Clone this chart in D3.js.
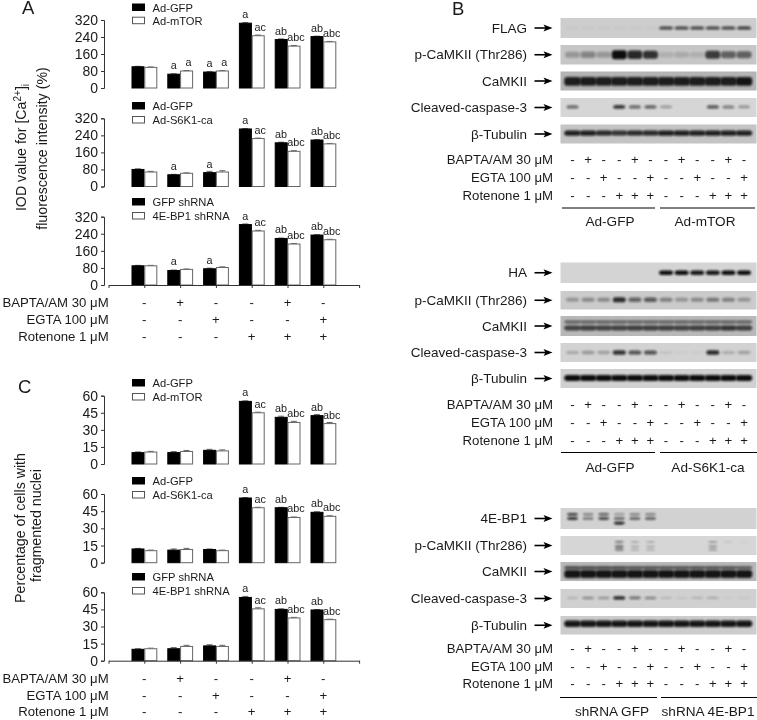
<!DOCTYPE html>
<html><head><meta charset="utf-8">
<script src="https://cdn.jsdelivr.net/npm/d3@7"></script>
<style>html,body{margin:0;padding:0;background:#fff}svg{display:block;filter:blur(0.3px)}text{font-family:"Liberation Sans",Arial,sans-serif;fill:#1a1a1a}</style>
</head><body><svg id="c" width="757" height="720"></svg>
<script>
// ---------- bar data ----------
const a1Black=[100,65,75,305,228,242], a1White=[97,80,80,246,197,217];
const a2Black=[80,55,65,270,205,218],  a2White=[68,62,68,225,165,200];
const a3Black=[90,68,76,283,218,234],  a3White=[90,73,82,253,192,212];
const c1Black=[10,10,12,55,41,42.5],   c1White=[10.5,11,11.5,45,36.5,35.5];
const c2Black=[12,11,11.5,56.5,48,44], c2White=[10.5,11.5,10.5,48,39.5,40.5];
const c3Black=[10,10.5,13,55.5,45,44.5], c3White=[10.5,12.5,12.5,45.5,37.5,36];
const a1Err=[2,2,2,3,3,2], a2Err=[3,2,6,2,3,2], a3Err=[2,2,3,3,2,2];
const c1Err=[.6,.9,.9,.5,1,1], c2Err=[.5,1,.5,.4,.4,.5], c3Err=[.5,1,1,.9,.5,.4];
const a1BlackLbl=["","a","a","a","ab","ab"], a1WhiteLbl=["","a","a","ac","abc","abc"];
const a2BlackLbl=["","a","a","a","ab","ab"], a2WhiteLbl=["","","","ac","abc","abc"];
const cBlackLbl=["","","","a","ab","ab"], cWhiteLbl=["","","","ac","abc","abc"];
const legendA1=["Ad-GFP","Ad-mTOR"], legendA2=["Ad-GFP","Ad-S6K1-ca"], legendA3=["GFP shRNA","4E-BP1 shRNA"];
const ticksA=[0,80,160,240,320], ticksC=[0,15,30,45,60];
const rowLabels=["BAPTA/AM 30 ","EGTA 100 ","Rotenone 1 "];
const signsBapta=["-","+","-","-","+","-"], signsEgta=["-","-","+","-","-","+"], signsRot=["-","-","-","+","+","+"];

// ---------- blot band intensities (0-1), one per lane ----------
const flag=[.04,.04,.04,.04,.03,.03,.72,.72,.72,.72,.72,.78];
const pCam1=[.25,.35,.25,1,.85,.8,.12,.15,.12,.75,.55,.55];
const cam1=[.9,.9,.9,.9,.9,.9,.9,.9,.9,.9,.9,.95];
const cleaved1=[.55,0,0,.8,.55,.6,.3,0,0,.65,.45,.35];
const tub1=[.9,.9,.85,.8,.85,.85,.9,.9,.9,.9,.9,.9];
const ha=[0,0,0,0,0,0,1,1,.95,.95,1,1];
const pCam2=[.3,.35,.35,.85,.55,.6,.4,.3,.35,.45,.4,.3];
const cam2a=[.55,.55,.55,.55,.55,.55,.55,.55,.55,.55,.55,.55];
const cam2b=[.7,.72,.7,.7,.72,.72,.72,.7,.72,.72,.78,.72];
const cleaved2=[.22,.3,.25,.82,.65,.65,.08,.03,.03,.85,.2,.25];
const tub2=[1,1,1,1,1,1,1,1,1,1,1,1];
const bp1a=[.75,.45,.6,.35,.45,.45,0,0,0,0,0,0];
const bp1b=[.8,.5,.7,.6,.65,.65,0,0,0,0,0,0];
const bp1c=[0,0,0,.95,0,0,0,0,0,0,0,0];
const pCam3a=[0,0,0,.5,.25,.25,0,0,0,.35,.1,.05];
const pCam3b=[0,0,0,.55,.22,.22,0,0,0,.35,0,0];
const pCam3c=[0,0,0,.5,.2,.2,0,0,0,.3,0,0];
const cam3a=[.7,.7,.7,.7,.65,.65,.65,.65,.65,.65,.65,.6];
const cam3b=[.95,.95,.95,.95,.95,.95,.95,.95,.95,.95,.95,.95];
const cleaved3=[.15,.35,.3,.9,.5,.4,.12,.08,.15,.2,.03,.05];
const tub3=[.95,.95,.95,.95,.95,.95,.95,.95,.95,.95,.95,.95];
const groupsB1=["Ad-GFP","Ad-mTOR"], groupsB2=["Ad-GFP","Ad-S6K1-ca"], groupsB3=["shRNA GFP","shRNA 4E-BP1"];
const signs12=[...signsBapta,...signsBapta], egta12=[...signsEgta,...signsEgta], rot12=[...signsRot,...signsRot];

const svg=d3.select("#c");
const defs=svg.append("defs");
defs.append("filter").attr("id","blur").attr("x","-30%").attr("y","-60%").attr("width","160%").attr("height","220%")
  .append("feGaussianBlur").attr("stdDeviation","1.1 0.8");
defs.append("filter").attr("id","soft").append("feGaussianBlur").attr("stdDeviation","0.35");
const x=d3.scaleLinear().domain([-1,6]).range([108.5,359.1]);
const barW=12.8;
const ink="#1a1a1a";

function barPanel(cfg){
  const y=d3.scaleLinear().domain(cfg.domain).range([cfg.y0,cfg.yTop]);
  const g=svg.append("g");
  const ax=g.append("g").attr("transform","translate(104,0)")
    .call(d3.axisLeft(y).tickValues(cfg.ticks).tickSize(3).tickPadding(3));
  ax.selectAll("path,line").attr("stroke","#333").attr("stroke-width",1);
  ax.selectAll("text").attr("font-size",14).attr("font-family","Liberation Sans").attr("fill",ink);
  const series=[[cfg.black,"#000","#000",-barW,cfg.blackLbl],[cfg.white,"#fff","#666",0,cfg.whiteLbl]];
  series.forEach(([vals,fill,stroke,dx,lbl])=>{
    g.selectAll(null).data(vals).join("line")
      .attr("x1",(d,i)=>x(i)+dx+barW/2).attr("x2",(d,i)=>x(i)+dx+barW/2)
      .attr("y1",d=>y(d)).attr("y2",(d,i)=>y(d+cfg.err[i])).attr("stroke","#666");
    g.selectAll(null).data(vals).join("line")
      .attr("x1",(d,i)=>x(i)+dx+barW/2-3).attr("x2",(d,i)=>x(i)+dx+barW/2+3)
      .attr("y1",(d,i)=>y(d+cfg.err[i])).attr("y2",(d,i)=>y(d+cfg.err[i])).attr("stroke","#666");
    g.selectAll(null).data(vals).join("rect")
      .attr("x",(d,i)=>x(i)+dx+.5).attr("width",barW-.8)
      .attr("y",d=>y(d)).attr("height",d=>cfg.y0-y(d))
      .attr("fill",fill).attr("stroke",stroke).attr("stroke-width",1);
    g.selectAll(null).data(vals).join("text")
      .attr("x",(d,i)=>x(i)+dx+barW/2+(dx?0:2)).attr("y",d=>y(d)-5)
      .attr("text-anchor","middle").attr("font-size",10.8)
      .text((d,i)=>lbl[i]);
  });
  // legend
  cfg.legend.forEach((t,i)=>{
    g.append("rect").attr("x",132.5).attr("width",12).attr("y",cfg.legY[i]-3.5).attr("height",6.5)
      .attr("fill",i?"#fff":"#000").attr("stroke",i?"#555":"#000");
    g.append("text").attr("x",152.5).attr("y",cfg.legY[i]+4).attr("font-size",11.2).text(t);
  });
  if(cfg.baseline){
    const b=g.append("g").attr("transform",`translate(0,${cfg.y0})`)
      .call(d3.axisBottom(x).tickValues(d3.range(-1,7)).tickFormat("").tickSize(3).tickSizeOuter(0));
    b.selectAll("path,line").attr("stroke","#333");
  }
}
barPanel({domain:[0,320],ticks:ticksA,y0:88,yTop:20,black:a1Black,white:a1White,err:a1Err,blackLbl:a1BlackLbl,whiteLbl:a1WhiteLbl,legend:legendA1,legY:[7.5,20.7]});
barPanel({domain:[0,320],ticks:ticksA,y0:186.5,yTop:118.3,black:a2Black,white:a2White,err:a2Err,blackLbl:a2BlackLbl,whiteLbl:a2WhiteLbl,legend:legendA2,legY:[106,120]});
barPanel({domain:[0,320],ticks:ticksA,y0:285,yTop:216.7,black:a3Black,white:a3White,err:a3Err,blackLbl:a2BlackLbl,whiteLbl:a2WhiteLbl,legend:legendA3,legY:[202,216],baseline:true});
barPanel({domain:[0,60],ticks:ticksC,y0:464,yTop:395.7,black:c1Black,white:c1White,err:c1Err,blackLbl:cBlackLbl,whiteLbl:cWhiteLbl,legend:legendA1,legY:[383,397]});
barPanel({domain:[0,60],ticks:ticksC,y0:562.7,yTop:494,black:c2Black,white:c2White,err:c2Err,blackLbl:cBlackLbl,whiteLbl:cWhiteLbl,legend:legendA2,legY:[481,495]});
barPanel({domain:[0,60],ticks:ticksC,y0:660.7,yTop:592.3,black:c3Black,white:c3White,err:c3Err,blackLbl:cBlackLbl,whiteLbl:cWhiteLbl,legend:legendA3,legY:[577,591],baseline:true});

function micro(sel,label,xr,yb,fs){
  const t=sel.append("text").attr("x",xr).attr("y",yb).attr("text-anchor","end").attr("font-size",fs);
  t.append("tspan").text(label+"μM");
}
function signTable(rows,xf,ys,labelX,fs){
  rowLabels.forEach((lab,r)=>{
    micro(svg,lab,labelX,ys[r],fs);
    svg.selectAll(null).data(rows[r]).join("text")
      .attr("x",(d,i)=>xf(i)).attr("y",ys[r]).attr("text-anchor","middle")
      .attr("font-size",fs).text(d=>d);
  });
}
signTable([signsBapta,signsEgta,signsRot],x,[307,324,341],108.7,13.2);
signTable([signsBapta,signsEgta,signsRot],x,[683,699.5,716],108.7,13.2);

// rotated titles
function vtext(xp,yp,fs,build){
  const t=svg.append("text").attr("transform",`translate(${xp},${yp}) rotate(-90)`).attr("text-anchor","middle").attr("font-size",fs);
  build(t);
}
vtext(26,147.5,14.2,t=>{
  t.append("tspan").text("IOD value for [Ca");
  t.append("tspan").attr("dy",-5).attr("font-size",10).text("2+");
  t.append("tspan").attr("dy",5).text("]");
  t.append("tspan").attr("dy",3).attr("font-size",10).text("i");
});
vtext(47,148.5,14.2,t=>t.text("fluorescence intensity (%)"));
vtext(25,528,14.2,t=>t.text("Percentage of cells with"));
vtext(41,525.5,14.2,t=>t.text("fragmented nuclei"));

[["A",22,14],["B",452,15],["C",18,393]].forEach(([s,px,py])=>
  svg.append("text").attr("x",px).attr("y",py).attr("font-size",18.5).text(s));

// ---------- blots ----------
const lane=d3.scaleLinear().domain([0,11]).range([572.5,744]);
const fullW=16.5;
function blot(label,top,h,bg,bands){
  const g=svg.append("g");
  g.append("rect").attr("x",560.5).attr("y",top).attr("width",196).attr("height",h).attr("fill",bg).attr("filter","url(#soft)");
  bands.forEach(b=>{
    const w=b.w||fullW;
    g.selectAll(null).data(b.v).join("rect")
      .attr("x",(d,i)=>lane(i)-w/2).attr("width",w)
      .attr("y",d=>top+b.c*h-b.t/2*(0.55+0.45*d)).attr("height",d=>b.t*(0.55+0.45*d))
      .attr("rx",3).attr("fill","#0a0a0a").attr("opacity",d=>d).attr("filter","url(#blur)");
  });
  const yc=top+h/2;
  svg.append("text").attr("x",527).attr("y",yc+4.5).attr("text-anchor","end").attr("font-size",13.5).text(label);
  svg.append("path").attr("d",`M534.5 ${yc}H546`).attr("stroke","#000").attr("stroke-width",1.6);
  svg.append("path").attr("d",`M552.5 ${yc}L543.5 ${yc-3.4}L545.5 ${yc}L543.5 ${yc+3.4}Z`).attr("fill","#000");
}
const pLab="p-CaMKII (Thr286)", cLab="CaMKII", ccLab="Cleaved-caspase-3", tLab="β-Tubulin";
blot("FLAG",18,20,"#cdcdcd",[{c:.5,t:3.5,v:flag,w:14}]);
blot(pLab,45,19.5,"#c6c6c6",[{c:.5,t:9,v:pCam1,w:15}]);
blot(cLab,71.5,19,"#b4b4b4",[{c:.52,t:9,v:cam1}]);
blot(ccLab,98,19,"#d6d6d6",[{c:.47,t:4,v:cleaved1,w:12}]);
blot(tLab,124.5,19,"#c4c4c4",[{c:.45,t:5.5,v:tub1}]);

blot("HA",262.5,20.5,"#d4d4d4",[{c:.5,t:4.5,v:ha,w:14}]);
blot(pLab,291,18.5,"#cbcbcb",[{c:.47,t:5.5,v:pCam2,w:13}]);
blot(cLab,316,20,"#b8b8b8",[{c:.3,t:3.5,v:cam2a},{c:.6,t:5.5,v:cam2b}]);
blot(ccLab,343,19,"#d2d2d2",[{c:.5,t:5,v:cleaved2,w:13}]);
blot(tLab,369,19,"#d0d0d0",[{c:.47,t:6,v:tub2}]);

blot("4E-BP1",508,21,"#d2d2d2",[{c:.3,t:3,v:bp1a,w:11},{c:.5,t:3.2,v:bp1b,w:11},{c:.72,t:3,v:bp1c,w:11}]);
blot(pLab,536,19,"#d6d6d6",[{c:.32,t:2.5,v:pCam3a,w:9},{c:.55,t:3,v:pCam3b,w:9},{c:.72,t:3,v:pCam3c,w:9}]);
blot(cLab,562,19,"#b8b8b8",[{c:.3,t:3.5,v:cam3a},{c:.63,t:8,v:cam3b}]);
blot(ccLab,589,19,"#d0d0d0",[{c:.47,t:3.5,v:cleaved3,w:12}]);
blot(tLab,616,18.5,"#cccccc",[{c:.42,t:6.5,v:tub3}]);

function blotFoot(ys,lineY,lblY,groups,x1,x2,c1,c2){
  signTable([signs12,egta12,rot12],lane,ys,553,13.2);
  svg.append("line").attr("x1",x1[0]).attr("x2",x1[1]).attr("y1",lineY).attr("y2",lineY).attr("stroke","#000");
  svg.append("line").attr("x1",x2[0]).attr("x2",x2[1]).attr("y1",lineY).attr("y2",lineY).attr("stroke","#000");
  [[groups[0],c1],[groups[1],c2]].forEach(([t,cx])=>
    svg.append("text").attr("x",cx).attr("y",lblY).attr("text-anchor","middle").attr("font-size",13.6).text(t));
}
blotFoot([164,182,199.5],208,226,groupsB1,[562,655],[660,755],610,705);
blotFoot([409,427,444.5],452.5,472,groupsB2,[561,655],[660,757],610,708);
blotFoot([653,670.5,688],697.5,716,groupsB3,[560,657],[661,757],612,708);
</script></body></html>
